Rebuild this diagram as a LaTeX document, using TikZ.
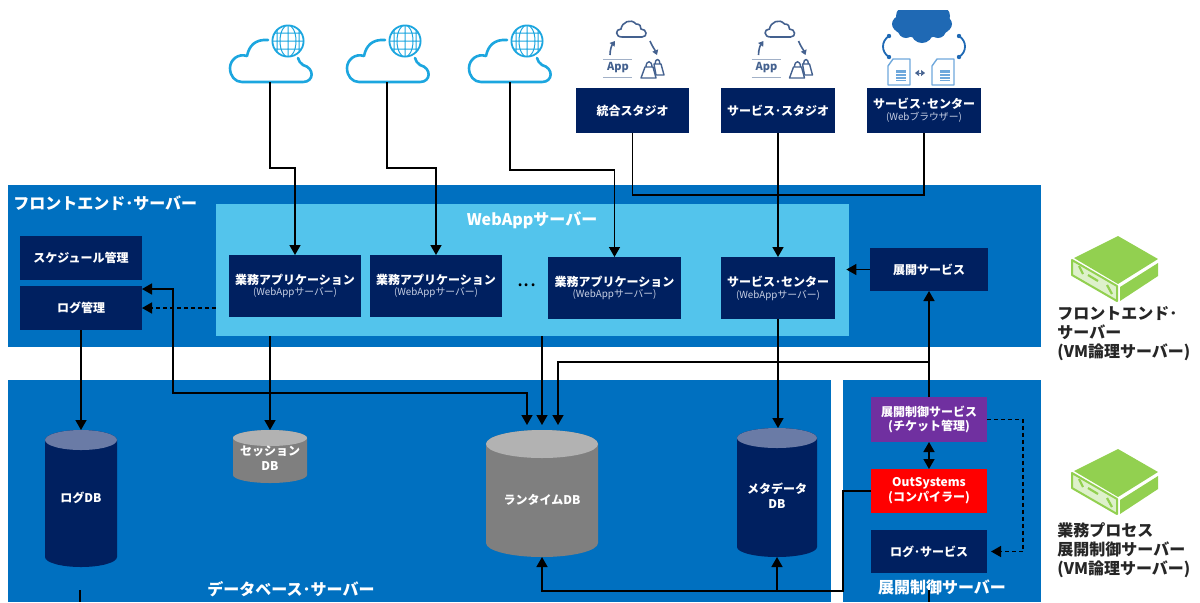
\documentclass[tikz,border=0pt]{standalone}
\usepackage{fontspec}
\setmainfont{Noto Sans CJK JP}
\usetikzlibrary{arrows.meta,calc}
\definecolor{panelblue}{HTML}{0070C0}
\definecolor{lightblue}{HTML}{53C4EC}
\definecolor{navy}{HTML}{002060}
\definecolor{navytop}{HTML}{6A7BA6}
\definecolor{purp}{HTML}{7030A0}
\definecolor{graybody}{HTML}{7F7F7F}
\definecolor{graytop}{HTML}{B2B2B2}
\definecolor{srvgreen}{HTML}{92D050}
\definecolor{cloudblue}{HTML}{1CA6DF}
\definecolor{subtxt}{HTML}{C8D0E4}
\definecolor{iconblue}{HTML}{44618F}
\definecolor{cloudfill}{HTML}{1F69B4}
\definecolor{docblue}{HTML}{6FA8DC}
\newcommand\mainfs{\fontsize{6}{7.4}\selectfont}
\newcommand\subfs{\fontsize{4.9}{5.6}\selectfont}
\newcommand\headfs{\fontsize{8}{9.6}\selectfont}
\newcommand\rightfs{\fontsize{8}{9.6}\selectfont}
\newcommand\pxbox[7]{\node[#6,minimum width={(#4-#2)*0.5pt},minimum height={(#5-#3)*0.5pt}] (#1) at ({(#2+#4)/2},{(#3+#5)/2}) {#7};}
\newcommand\pxdb[8]{%
  \pgfmathsetmacro\dbR{(#4-#2)*0.25}%
  \pgfmathsetmacro\dbr{#6*0.5}%
  \fill[#7] (#2,#3+#6) -- (#2,#5-#6) arc[start angle=180,end angle=360,x radius=\dbR pt,y radius=\dbr pt] -- (#4,#3+#6) arc[start angle=0,end angle=180,x radius=\dbR pt,y radius=\dbr pt] -- cycle;
  \fill[#8] ({(#2+#4)/2},#3+#6) circle[x radius=\dbR pt,y radius=\dbr pt];
  \node[inner sep=0pt,outer sep=0pt,minimum width={(#4-#2)*0.5pt},minimum height={(#5-#3)*0.5pt}] (#1) at ({(#2+#4)/2},{(#3+#5)/2}) {};}
\tikzset{
  x=0.5pt,y=-0.5pt,
  boxtxt/.style={inner sep=0pt,outer sep=0pt,text=white,align=center,font=\mainfs\bfseries},
  navybox/.style={boxtxt,fill=navy},
  purpbox/.style={boxtxt,fill=purp},
  redbox/.style={boxtxt,fill=red},
  conn/.style={draw=black,line width=0.75pt},
  arr/.style={conn,-{Triangle[width=5.5pt,length=5pt]}},
  barr/.style={conn,{Triangle[width=5.5pt,length=5pt]}-{Triangle[width=5.5pt,length=5pt]}},
  darr/.style={arr,dash pattern=on 2pt off 1.5pt},
  head/.style={inner sep=0pt,text=white,font=\headfs\bfseries},
  rlabel/.style={inner sep=0pt,text=black!85,align=left,font=\rightfs\bfseries},
  pics/webcloud/.style={code={
    \draw[cloudblue,line width=1.3pt,line cap=round,line join=round]
      (268,40) .. controls (255,39) and (249,46) .. (247,56)
      .. controls (238,53) and (230,60) .. (230,68)
      .. controls (230,76) and (235,82) .. (242,82)
      -- (303,82) .. controls (314,82) and (315,68) .. (303,65)
      .. controls (300,63) and (299,61) .. (298,58);
    \draw[cloudblue,line width=0.9pt] (288,41) circle[radius=7.8pt];
    \clip (288,41) circle[radius=7.8pt];
    \draw[cloudblue,line width=0.5pt] (288,41) circle[x radius=4pt,y radius=8pt]
      (288,25) -- (288,57) (272,41) -- (304,41) (272,33) -- (304,33) (272,49) -- (304,49) (277,25) -- (277,57) (299,25) -- (299,57);
  }},
  pics/studioicon/.style={code={
    \draw[iconblue,line width=0.8pt,line join=round]
      (622,37) .. controls (615,37) and (615,29) .. (621,29)
      .. controls (622,22) and (631,18) .. (636,24)
      .. controls (640,24) and (641,26) .. (641,29)
      .. controls (647,29) and (648,37) .. (642,37) -- cycle;
    \draw[iconblue,line width=0.8pt,-{Triangle[width=3pt,length=2.4pt]}] (610,55) .. controls (610,49) and (612,45) .. (615,41);
    \draw[iconblue,line width=0.8pt,-{Triangle[width=3pt,length=2.4pt]}] (650,41) .. controls (652,46) and (655,50) .. (657,55);
    \draw[iconblue!50,line width=0.5pt] (603,59) -- (632,59) (603,77) -- (632,77);
    \node[inner sep=0pt,text=iconblue,font=\fontsize{5.5}{6}\selectfont\bfseries] at (618,68) {App};
    \draw[iconblue,line width=0.7pt,line join=round,fill=white]
      (654,64) -- (661,64) -- (664,75) -- (656,75) -- cycle (655,64) .. controls (655,58) and (660,58) .. (660,64);
    \draw[iconblue,line width=0.7pt,line join=round,fill=white]
      (645,67) -- (653,67) -- (656,78) -- (641,78) -- cycle;
    \draw[iconblue,line width=0.7pt] (646,67) .. controls (646,60) and (652,60) .. (652,67);
  }},
  pics/srv/.style={code={
    \fill[srvgreen] (1118,236) -- (1158,259) -- (1118,284) -- (1074,258) -- cycle;
    \fill[srvgreen] (1120,287) -- (1158,263) -- (1158,276) -- (1120,301) -- cycle;
    \draw[srvgreen,line width=1pt,fill=srvgreen!30,line join=round] (1072,260) -- (1117,286) -- (1117,301) -- (1072,275) -- cycle;
    \draw[srvgreen,line width=1.1pt] (1088,275) -- (1098,281) (1079,266) -- (1083,274) (1107,285) -- (1112,294);
  }}
}
\begin{document}
\begin{tikzpicture}
\useasboundingbox (0,0) rectangle (1200,602);
% panels
\pxbox{front}{8}{185}{1041}{347}{fill=panelblue}{}
\pxbox{dbpanel}{8}{380}{831}{602}{fill=panelblue}{}
\pxbox{deppanel}{843}{380}{1041}{602}{fill=panelblue}{}
\pxbox{web}{216}{204}{849}{336}{fill=lightblue}{}
% clouds
\pic at (0,0) {webcloud};
\pic at (117,0) {webcloud};
\pic at (239,0) {webcloud};
\coordinate (c1) at (270,82);
\coordinate (c2) at (387,82);
\coordinate (c3) at (510,82);
% studio icons
\pic at (0,0) {studioicon};
\pic at (148.5,0) {studioicon};
% service center icon
\begin{scope}
  \clip (870,10) rectangle (975,90);
  \fill[cloudfill] (922,24) ellipse[x radius=15pt,y radius=7pt];
  \fill[cloudfill] (906,16) circle[radius=5pt];
  \fill[cloudfill] (925,12) circle[radius=8pt];
  \fill[cloudfill] (940,16) circle[radius=5pt];
  \fill[cloudfill] (906,30) circle[radius=4pt];
  \fill[cloudfill] (922,32) circle[radius=5.5pt];
  \fill[cloudfill] (938,30) circle[radius=4pt];
\end{scope}
\draw[cloudfill,line width=0.9pt] (889,36) .. controls (881,41) and (881,52) .. (889,57);
\draw[cloudfill,line width=0.9pt] (959,36) .. controls (967,41) and (967,52) .. (959,57);
\fill[cloudfill] (889,36) circle[radius=1.1pt] (889,57) circle[radius=1.1pt] (959,36) circle[radius=1.1pt] (959,57) circle[radius=1.1pt];
\foreach \dx in {0,44}{
  \begin{scope}[shift={(\dx,0)}]
    \draw[docblue,line width=0.7pt,line join=round,fill=white] (893,59) -- (910,59) -- (910,85) -- (888,85) -- (888,66) -- cycle;
    \fill[docblue] (896,70) rectangle (906,81);
    \draw[white,line width=0.25pt] (896,73) -- (906,73) (896,76) -- (906,76) (896,79) -- (906,79);
  \end{scope}
}
\draw[{Triangle[width=3pt,length=2pt]}-{Triangle[width=3pt,length=2pt]},iconblue,line width=0.3pt] (915,73) -- (925,73);
% boxes top
\pxbox{integ}{576}{88}{689}{133}{navybox}{統合スタジオ}
\pxbox{sstudio}{721}{88}{835}{133}{navybox}{サービス･スタジオ}
\pxbox{scweb}{867}{88}{981}{133}{navybox}{サービス･センター\\[-1.5pt]{\subfs\mdseries\color{subtxt}(Webブラウザー)}}
% front
\pxbox{sched}{20}{236}{142}{280}{navybox}{スケジュール管理}
\pxbox{logm}{20}{286}{142}{330}{navybox}{ログ管理}
\pxbox{app1}{229}{255}{361}{317}{navybox}{業務アプリケーション\\[-1.5pt]{\subfs\mdseries\color{subtxt}(WebAppサーバー)}}
\pxbox{app2}{370}{255}{502}{317}{navybox}{業務アプリケーション\\[-1.5pt]{\subfs\mdseries\color{subtxt}(WebAppサーバー)}}
\pxbox{app3}{548}{257}{681}{319}{navybox}{業務アプリケーション\\[-1.5pt]{\subfs\mdseries\color{subtxt}(WebAppサーバー)}}
\pxbox{svc}{721}{257}{835}{319}{navybox}{サービス･センター\\[-1.5pt]{\subfs\mdseries\color{subtxt}(WebAppサーバー)}}
\pxbox{deploy}{870}{248}{988}{291}{navybox}{展開サービス}
\node[inner sep=0pt,font=\fontsize{11}{11}\selectfont,text=black] (dots) at (527,285) {...};
\node[head,anchor=west] (fronttitle) at (13,203) {フロントエンド･サーバー};
\node[head,text=white] (webtitle) at (532,220) {WebAppサーバー};
% databases
\pxdb{logdb}{45}{430}{117}{567}{10}{navy}{navytop}
\pxdb{sess}{233}{430}{307}{483}{8}{graybody}{graytop}
\pxdb{rt}{486}{430}{598}{557}{14}{graybody}{graytop}
\pxdb{meta}{737}{428}{817}{557}{10}{navy}{navytop}
\node[boxtxt] (logdbtxt) at (81,498) {ログDB};
\node[boxtxt] (sesstxt) at (270,458) {セッション\\DB};
\node[boxtxt] (rttxt) at (542,500) {ランタイムDB};
\node[boxtxt] (metatxt) at (777,496) {メタデータ\\DB};
% deploy
\pxbox{ctrl}{871}{397}{987}{442}{purpbox}{展開制御サービス\\(チケット管理)}
\pxbox{comp}{871}{469}{987}{513}{redbox}{OutSystems\\(コンパイラー)}
\pxbox{lsvc}{871}{530}{987}{573}{navybox}{ログ･サービス}
\node[head] (dbtitle) at (291,589) {データベース･サーバー};
\node[head] (deptitle) at (942,587) {展開制御サーバー};
% servers
\pic at (0,0) {srv};
\pic at (0,213) {srv};
\node[rlabel,anchor=north west] (r1) at (1057,306) {フロントエンド･\\サーバー\\(VM論理サーバー)};
\node[rlabel,anchor=north west] (r2) at (1057,522) {業務プロセス\\展開制御サーバー\\(VM論理サーバー)};
% connectors
\coordinate (b1) at (270,168);
\coordinate (b2) at (387,168);
\coordinate (b3) at (510,170);
\draw[arr] (c1) -- (b1) -| (app1.north);
\draw[arr] (c2) -- (b2) -| (app2.north);
\draw[arr] (c3) -- (b3) -| (app3.north);
\coordinate (bus) at (633,195);
\draw[conn] (integ.south) |- (bus -| scweb.south) -- (scweb.south);
\draw[arr] (sstudio.south) -- (svc.north);
\draw[arr,shorten >=-1.5pt] (deploy.west) -- (deploy.west -| web.east);
\draw[darr] (logm.east -| web.west) -- (logm.east);
\coordinate (lj) at (173,393);
\draw[barr,shorten <=2.5pt] ([xshift=-7.5pt]rt.north) |- (lj) |- ([yshift=9.5pt]logm.east);
\draw[arr] (logm.south) -- (logdb.north);
\draw[arr] (web.south -| sess.north) -- (sess.north);
\draw[arr,shorten >=2.5pt] (web.south -| rt.north) -- (rt.north);
\coordinate (rtj) at (ctrl.north |- 0,362);
\draw[arr,shorten >=2.5pt] (rtj) -| ([xshift=8pt]rt.north);
\draw[arr] (svc.south) -- (svc.south |- meta.north);
\draw[arr] (ctrl.north) -- (deploy.south);
\draw[barr] (ctrl.south) -- (comp.north);
\coordinate (bj) at (843,591);
\draw[arr] (comp.west) -| (bj) -| (rt.south);
\draw[arr] (bj -| meta.south) -- (meta.south);
\draw[darr,shorten >=2pt] (ctrl.east) -- ++(18pt,0) |- (lsvc.east);
\coordinate (s1a) at (80,590);
\coordinate (s1b) at (80,602);
\coordinate (s2a) at (929,590);
\coordinate (s2b) at (929,602);
\draw[conn] (s1a) -- (s1b);
\draw[conn] (s2a) -- (s2b);
\end{tikzpicture}
\end{document}
